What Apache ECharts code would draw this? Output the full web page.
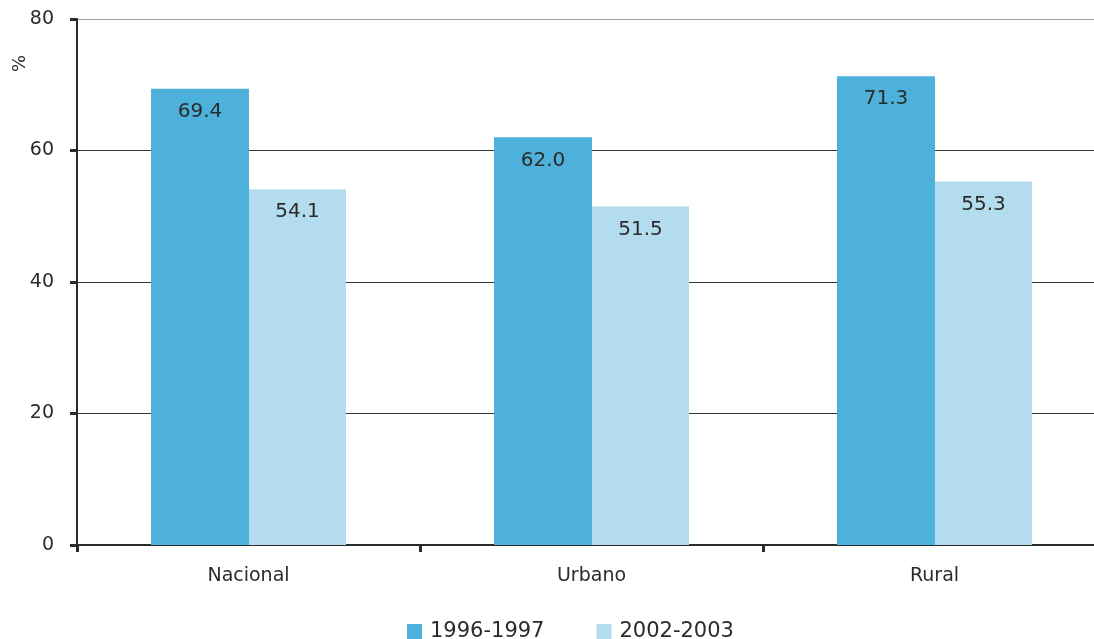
<!DOCTYPE html>
<html>
<head>
<meta charset="utf-8">
<script src="https://cdn.jsdelivr.net/npm/echarts@6/dist/echarts.min.js"></script>
<style>
  html, body { margin: 0; padding: 0; background: #fff; }
  #chart { width: 1094px; height: 639px; }
</style>
</head>
<body>
<div id="chart"></div>
<script>
// Categories and series values
const categories = ['Nacional', 'Urbano', 'Rural'];
const seriesNames = ['1996-1997', '2002-2003'];
const values1996 = [69.4, 62.0, 71.3];
const values2002 = [54.1, 51.5, 55.3];
const yTicks = [0, 20, 40, 60, 80];
const unitLabel = '%';

const FONT = '"DejaVu Sans", "Liberation Sans", Arial, sans-serif';
const TEXT = '#2b2b2b';
const colors = ['#4DB1DC', '#B3DDEE'];

const chart = echarts.init(document.getElementById('chart'), null, { renderer: 'canvas' });

const labelStyle = {
  show: true,
  position: 'insideTop',
  distance: 13,
  fontFamily: FONT,
  fontSize: 20,
  color: TEXT,
  formatter: p => p.value.toFixed(1)
};

chart.setOption({
  animation: false,
  color: colors,
  // the third category runs past the right edge of the canvas
  grid: { left: 77, top: 19, width: 1029, height: 526, outerBoundsMode: 'none', containLabel: false },
  legend: {
    data: seriesNames,
    top: 621,
    left: 407,
    padding: 0,
    itemWidth: 15,
    itemHeight: 15,
    itemGap: 52,
    icon: 'rect',
    textStyle: { fontFamily: FONT, fontSize: 21, color: TEXT, padding: [3, 0, 0, 3] }
  },
  graphic: [{
    type: 'text',
    x: 11,
    y: 72,
    rotation: Math.PI / 2,
    style: { text: unitLabel, fontFamily: FONT, fontSize: 18, fill: TEXT }
  }],
  xAxis: {
    type: 'category',
    data: categories,
    axisLine: { lineStyle: { color: TEXT, width: 2 } },
    axisTick: { show: true, length: 7, lineStyle: { color: TEXT, width: 3 } },
    axisLabel: { fontFamily: FONT, fontSize: 19, color: TEXT, margin: 22 }
  },
  yAxis: {
    type: 'value',
    min: yTicks[0],
    max: yTicks[yTicks.length - 1],
    interval: 20,
    axisLine: { show: true, lineStyle: { color: TEXT, width: 2 } },
    axisTick: { show: true, length: 7, lineStyle: { color: TEXT, width: 3 } },
    axisLabel: { fontFamily: FONT, fontSize: 19, color: TEXT, margin: 23 },
    splitLine: { show: true, lineStyle: { color: ['#333', '#333', '#333', '#333', '#a0a0a0'], width: 1 } }
  },
  series: [
    {
      name: seriesNames[0],
      type: 'bar',
      data: values1996,
      barWidth: 98,
      barGap: '0%',
      label: labelStyle,
      z: 3
    },
    {
      name: seriesNames[1],
      type: 'bar',
      data: values2002,
      barWidth: 97,
      barGap: '0%',
      label: labelStyle,
      z: 3
    }
  ]
});
</script>
</body>
</html>
